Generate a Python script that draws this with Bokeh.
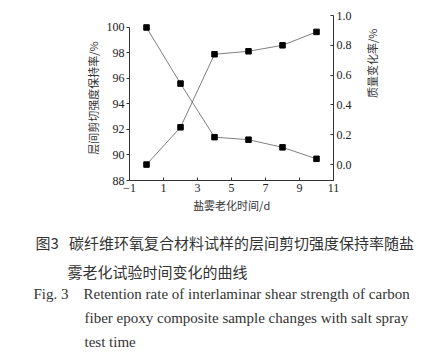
import math
from bokeh.plotting import figure
from bokeh.models import (Range1d, LinearAxis, FixedTicker, NumeralTickFormatter,
                          Title, ColumnDataSource)
from bokeh.embed import file_html
from bokeh.resources import INLINE

days = [0, 2, 4, 6, 8, 10]
retention = [100.0, 95.6, 91.4, 91.2, 90.6, 89.7]
mass_change = [0.0, 0.25, 0.74, 0.76, 0.80, 0.89]

x_ticks = [-1, 1, 3, 5, 7, 9, 11]
left_ticks = [88, 90, 92, 94, 96, 98, 100]
right_ticks = [0.0, 0.2, 0.4, 0.6, 0.8, 1.0]

x_label = "盐雾老化时间/d"
left_label = "层间剪切强度保持率/%"
right_label = "质量变化率/%"
NB = "\u00a0"
caption_cn = ["图3" + NB * 3 + "碳纤维环氧复合材料试样的层间剪切强度保持率随盐",
              "雾老化试验时间变化的曲线"]
caption_en = ["Fig. 3" + NB * 4 + "Retention rate of interlaminar shear strength of carbon",
              "fiber epoxy composite sample changes with salt spray",
              "test time"]

SERIF = "Liberation Serif"
CJK = "Noto Sans CJK SC"

W, H = 441, 363
p = figure(width=W, height=H, output_backend="svg", toolbar_location=None,
           x_range=Range1d(-1, 11), y_range=Range1d(88, 100.94),
           min_border_left=129, min_border_right=108, min_border_top=15,
           min_border_bottom=183)
p.outline_line_color = None
p.grid.visible = False
p.background_fill_color = "white"
p.border_fill_color = "white"

p.extra_y_ranges = {"mass": Range1d(-0.107, 1.0)}

for ax in [p.xaxis[0], p.yaxis[0]]:
    ax.major_label_text_font = SERIF
    ax.major_label_text_font_size = "12px"
    ax.major_label_text_color = "#222222"
    ax.axis_label_text_font = CJK
    ax.axis_label_text_font_size = "11px"
    ax.axis_label_text_font_style = "normal"
    ax.axis_label_text_color = "#333333"
    ax.axis_line_color = "#333333"
    ax.major_tick_line_color = "#333333"
    ax.minor_tick_line_color = None

p.xaxis.ticker = FixedTicker(ticks=x_ticks)
p.xaxis.axis_label = x_label
p.xaxis.major_tick_in = 3
p.xaxis.major_tick_out = 0
p.xaxis.major_label_standoff = 3
p.xaxis.axis_label_standoff = 2

p.yaxis.ticker = FixedTicker(ticks=left_ticks)
p.yaxis.bounds = (88, 100)
p.yaxis.axis_label = left_label
p.yaxis.major_tick_in = 0
p.yaxis.major_tick_out = 3
p.yaxis.major_label_standoff = 2
p.yaxis.axis_label_standoff = 3

ra = LinearAxis(y_range_name="mass", ticker=FixedTicker(ticks=right_ticks),
                formatter=NumeralTickFormatter(format="0.0"))
ra.major_label_text_font = SERIF
ra.major_label_text_font_size = "12px"
ra.major_label_text_color = "#222222"
ra.axis_label = right_label
ra.axis_label_text_font = CJK
ra.axis_label_text_font_size = "11px"
ra.axis_label_text_font_style = "normal"
ra.axis_label_text_color = "#333333"
ra.axis_line_color = "#333333"
ra.major_tick_line_color = "#333333"
ra.minor_tick_line_color = None
ra.major_tick_in = 3
ra.major_tick_out = 0
ra.major_label_standoff = 3
ra.axis_label_standoff = 17
try:
    ra.axis_label_orientation = math.pi / 2
except Exception:
    pass
p.add_layout(ra, "right")

src = ColumnDataSource(dict(x=days, r=retention, m=mass_change))
p.line("x", "r", source=src, line_color="#808080", line_width=1)
p.scatter("x", "r", source=src, marker="square", size=5.5, color="black")
p.line("x", "m", source=src, y_range_name="mass", line_color="#808080", line_width=1)
p.scatter("x", "m", source=src, y_range_name="mass", marker="square", size=5.5,
          color="black")

# small spacer between the x axis and the caption
p.add_layout(Title(text=NB, standoff=6, text_font_size="1px"), "below")

# caption lines stacked below the x axis
cn_offsets = [-94, -62]
cn_standoffs = [11, 0]
for t, off, so in zip(caption_cn, cn_offsets, cn_standoffs):
    p.add_layout(Title(text=t, align="left", offset=off, standoff=so,
                       text_font=CJK, text_font_size="15px",
                       text_font_style="normal", text_color="#333333"), "below")
en_offsets = [-96, -45, -45]
en_standoffs = [5, 6, 7]
for t, off, so in zip(caption_en, en_offsets, en_standoffs):
    p.add_layout(Title(text=t, align="left", offset=off, standoff=so,
                       text_font=SERIF, text_font_size="15px",
                       text_font_style="normal", text_color="#333333"), "below")

open("out.html", "w").write(file_html(p, INLINE))
